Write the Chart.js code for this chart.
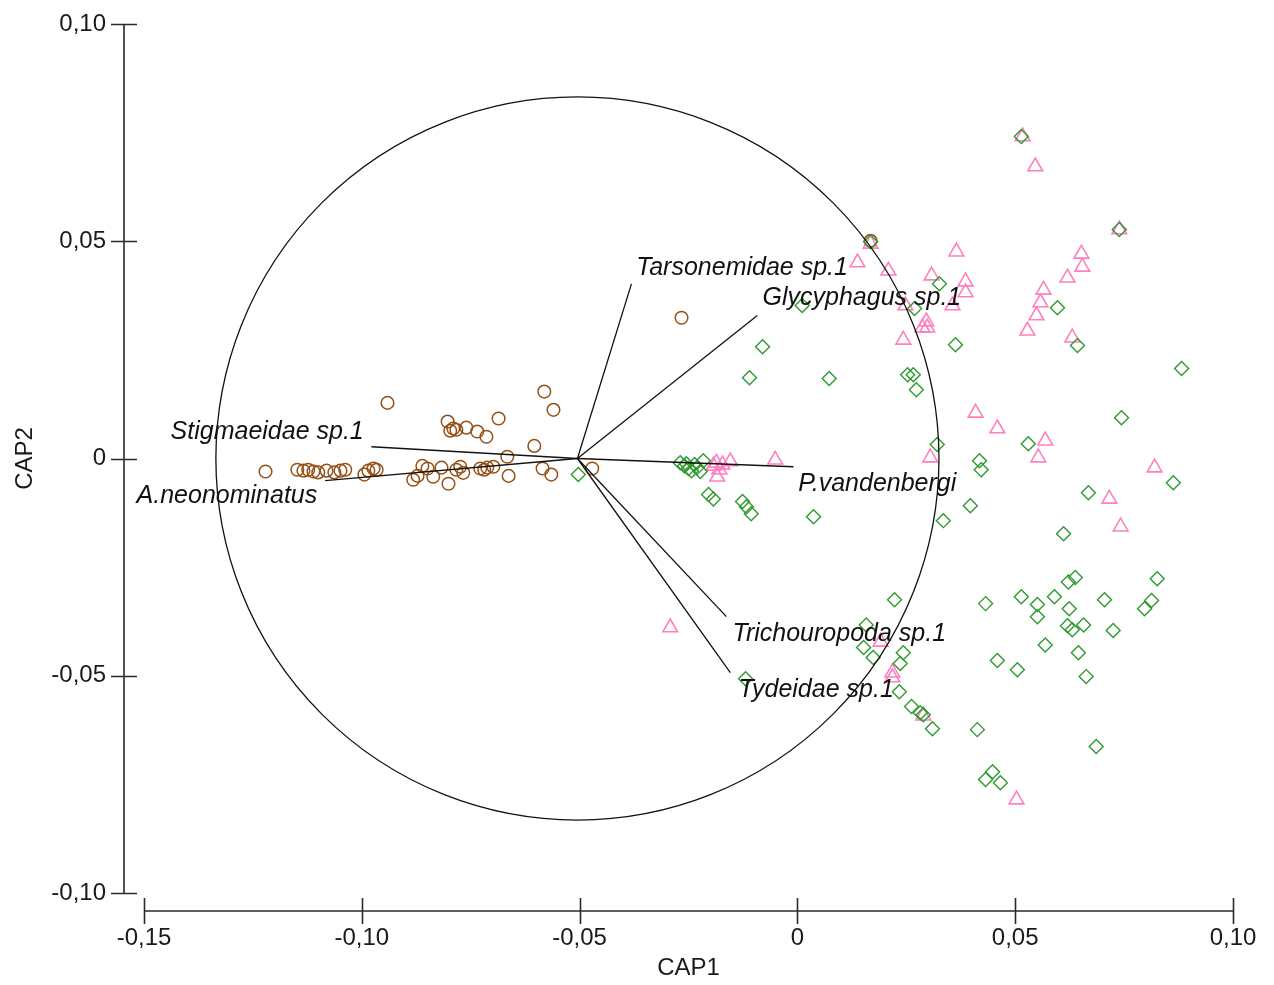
<!DOCTYPE html>
<html>
<head>
<meta charset="utf-8">
<title>CAP</title>
<script src="https://cdn.jsdelivr.net/npm/chart.js@4.4.1/dist/chart.umd.min.js"></script>
<style>
  html, body { margin: 0; padding: 0; background: #fff; }
  canvas { display: block; }
</style>
</head>
<body>
<canvas id="chart" width="1274" height="985"></canvas>
<script>
// axis ticks
const xTicks = [-0.15, -0.10, -0.05, 0, 0.05, 0.10];
const xTickLabels = ['-0,15', '-0,10', '-0,05', '0', '0,05', '0,10'];
const yTicks = [0.10, 0.05, 0, -0.05, -0.10];
const yTickLabels = ['0,10', '0,05', '0', '-0,05', '-0,10'];

// sample scores (CAP1, CAP2)
const circlePts = [
  [-0.1221, -0.0030], [-0.1148, -0.0026], [-0.1134, -0.0028], [-0.1123, -0.0026], [-0.1111, -0.0030],
  [-0.1100, -0.0032], [-0.1081, -0.0028], [-0.1063, -0.0032], [-0.1049, -0.0028], [-0.1038, -0.0026],
  [-0.0994, -0.0037], [-0.0985, -0.0028], [-0.0973, -0.0023], [-0.0966, -0.0026], [-0.0882, -0.0049],
  [-0.0872, -0.0040], [-0.0861, -0.0017], [-0.0849, -0.0023], [-0.0836, -0.0042], [-0.0817, -0.0021],
  [-0.0801, -0.0058], [-0.0783, -0.0026], [-0.0774, -0.0019], [-0.0767, -0.0033], [-0.0728, -0.0023],
  [-0.0719, -0.0026], [-0.0712, -0.0021], [-0.0698, -0.0019], [-0.0663, -0.0040], [-0.0585, -0.0023],
  [-0.0565, -0.0037], [-0.0471, -0.0023], [-0.0941, 0.0128], [-0.0803, 0.0085], [-0.0797, 0.0064],
  [-0.0790, 0.0069], [-0.0783, 0.0066], [-0.0760, 0.0071], [-0.0735, 0.0062], [-0.0714, 0.0050],
  [-0.0686, 0.0092], [-0.0666, 0.0004], [-0.0604, 0.0029], [-0.0581, 0.0154], [-0.0560, 0.0112],
  [-0.0266, 0.0324], [0.0168, 0.0501]
];
const diamondPts = [
  [-0.0503, -0.0037], [-0.0269, -0.0010], [-0.0259, -0.0017], [-0.0250, -0.0023], [-0.0243, -0.0028],
  [-0.0236, -0.0014], [-0.0230, -0.0021], [-0.0223, -0.0030], [-0.0216, -0.0005], [-0.0255, -0.0012],
  [-0.0204, -0.0083], [-0.0193, -0.0093], [-0.0126, -0.0099], [-0.0117, -0.0111], [-0.0106, -0.0127],
  [0.0037, -0.0134], [-0.0080, 0.0257], [-0.0110, 0.0186], [0.0073, 0.0184], [0.0011, 0.0352],
  [0.0168, 0.0499], [0.0326, 0.0402], [0.0269, 0.0345], [0.0597, 0.0347], [0.0363, 0.0262],
  [0.0253, 0.0193], [0.0266, 0.0193], [0.0273, 0.0158], [0.0321, 0.0032], [0.0530, 0.0034],
  [0.0418, -0.0005], [0.0422, -0.0026], [0.0514, 0.0741], [0.0739, 0.0527], [0.0643, 0.0260],
  [0.0882, 0.0207], [0.0744, 0.0094], [0.0863, -0.0056], [0.0668, -0.0079], [0.0611, -0.0173],
  [0.0397, -0.0109], [0.0335, -0.0143], [0.0223, -0.0325], [0.0432, -0.0334], [0.0514, -0.0318],
  [0.0551, -0.0336], [0.0551, -0.0364], [0.0158, -0.0383], [0.0152, -0.0435], [0.0174, -0.0458],
  [0.0243, -0.0447], [0.0236, -0.0472], [0.0234, -0.0537], [0.0262, -0.0571], [0.0282, -0.0585],
  [0.0289, -0.0590], [0.0310, -0.0622], [0.0459, -0.0465], [0.0505, -0.0486], [0.0413, -0.0624],
  [0.0448, -0.0721], [0.0432, -0.0739], [0.0466, -0.0746], [0.0638, -0.0274], [0.0622, -0.0284],
  [0.0826, -0.0277], [0.0590, -0.0318], [0.0705, -0.0325], [0.0813, -0.0327], [0.0797, -0.0346],
  [0.0624, -0.0346], [0.0620, -0.0385], [0.0631, -0.0394], [0.0657, -0.0383], [0.0725, -0.0396],
  [0.0569, -0.0429], [0.0645, -0.0447], [0.0663, -0.0502], [0.0686, -0.0663], [-0.0119, -0.0507]
];
const trianglePts = [
  [-0.0193, -0.0017], [-0.0186, -0.0010], [-0.0179, -0.0026], [-0.0172, -0.0014], [-0.0154, -0.0007],
  [-0.0051, -0.0003], [-0.0184, -0.0042], [0.0168, 0.0494], [0.0138, 0.0451], [0.0209, 0.0432],
  [0.0365, 0.0476], [0.0308, 0.0421], [0.0386, 0.0407], [0.0386, 0.0382], [0.0248, 0.0352],
  [0.0356, 0.0352], [0.0296, 0.0315], [0.0287, 0.0301], [0.0298, 0.0301], [0.0243, 0.0273],
  [0.0565, 0.0388], [0.0558, 0.0359], [0.0549, 0.0329], [0.0528, 0.0294], [0.0409, 0.0105],
  [0.0459, 0.0069], [0.0569, 0.0041], [0.0553, 0.0002], [0.0305, 0.0002], [0.0517, 0.0741],
  [0.0546, 0.0672], [0.0739, 0.0527], [0.0652, 0.0471], [0.0654, 0.0441], [0.0620, 0.0416],
  [0.0631, 0.0278], [0.0820, -0.0021], [0.0716, -0.0093], [0.0742, -0.0157], [0.0191, -0.0422],
  [0.0218, -0.0493], [0.0218, -0.0504], [0.0289, -0.0592], [0.0503, -0.0785], [-0.0292, -0.0389]
];

// species vectors
const vecOrigin = [-0.0505, 0.0];
const vecNames = ['Tarsonemidae sp.1', 'Glycyphagus sp.1', 'Stigmaeidae sp.1', 'A.neonominatus',
  'P.vandenbergi', 'Trichouropoda sp.1', 'Tydeidae sp.1'];
const vecEnds = [[-0.0381, 0.0402], [-0.0092, 0.0329], [-0.0978, 0.0027], [-0.1084, -0.0051],
  [-0.0009, -0.0019], [-0.0163, -0.0364], [-0.0154, -0.0493]];
const vecLabelAt = [[-0.0370, 0.0439], [-0.0080, 0.0370], [-0.1439, 0.0062], [-0.1517, -0.0086],
  [0.0002, -0.0058], [-0.0149, -0.0403], [-0.0135, -0.0532]];
const corrRadius = 0.083;

const FONT = '"Liberation Sans", Arial, sans-serif';
const toXY = p => ({ x: p[0], y: p[1] });

const vectorSets = vecEnds.map((e, i) => ({
  type: 'line',
  label: vecNames[i],
  data: [toXY(vecOrigin), toXY(e)],
  borderColor: '#111',
  borderWidth: 1.3,
  pointRadius: 0,
  fill: false
}));

const decor = {
  id: 'decor',
  afterDatasetsDraw(chart) {
    const ctx = chart.ctx;
    const xs = chart.scales.x, ys = chart.scales.y;
    ctx.save();
    // correlation circle
    const cx = xs.getPixelForValue(vecOrigin[0]);
    const cy = ys.getPixelForValue(vecOrigin[1]);
    const r = xs.getPixelForValue(vecOrigin[0] + corrRadius) - cx;
    ctx.strokeStyle = '#111';
    ctx.lineWidth = 1.3;
    ctx.beginPath();
    ctx.arc(cx, cy, r, 0, Math.PI * 2);
    ctx.stroke();

    // vector labels
    ctx.fillStyle = '#111';
    ctx.font = 'italic 25px ' + FONT;
    ctx.textAlign = 'left';
    ctx.textBaseline = 'middle';
    vecNames.forEach((n, i) => {
      ctx.fillText(n, xs.getPixelForValue(vecLabelAt[i][0]), ys.getPixelForValue(vecLabelAt[i][1]));
    });

    // offset axes
    const axX = xs.left - 20;
    const axY = ys.bottom + 18;
    ctx.strokeStyle = '#2a2a2a';
    ctx.lineWidth = 1.6;
    ctx.beginPath();
    ctx.moveTo(axX, ys.getPixelForValue(yTicks[0]));
    ctx.lineTo(axX, ys.getPixelForValue(yTicks[yTicks.length - 1]));
    yTicks.forEach(v => {
      const py = Math.round(ys.getPixelForValue(v)) + 0.5;
      ctx.moveTo(axX - 13, py);
      ctx.lineTo(axX + 13, py);
    });
    ctx.moveTo(xs.getPixelForValue(xTicks[0]), axY);
    ctx.lineTo(xs.getPixelForValue(xTicks[xTicks.length - 1]), axY);
    xTicks.forEach(v => {
      const px = Math.round(xs.getPixelForValue(v)) + 0.5;
      ctx.moveTo(px, axY - 13);
      ctx.lineTo(px, axY + 13);
    });
    ctx.stroke();

    ctx.fillStyle = '#1a1a1a';
    ctx.font = '24px ' + FONT;
    ctx.textAlign = 'right';
    ctx.textBaseline = 'middle';
    yTicks.forEach((v, i) => ctx.fillText(yTickLabels[i], axX - 18, ys.getPixelForValue(v)));
    ctx.textAlign = 'center';
    xTicks.forEach((v, i) => ctx.fillText(xTickLabels[i], xs.getPixelForValue(v), axY + 27));

    // axis titles
    ctx.fillText('CAP1', (xs.left + xs.right) / 2, 968);
    ctx.translate(25, (ys.top + ys.bottom) / 2);
    ctx.rotate(-Math.PI / 2);
    ctx.fillText('CAP2', 0, 0);
    ctx.restore();
  }
};

new Chart(document.getElementById('chart'), {
  type: 'scatter',
  data: {
    datasets: [
      ...vectorSets,
      {
        label: 'diamonds',
        data: diamondPts.map(toXY),
        pointStyle: 'rectRot',
        pointRadius: 7,
        borderColor: '#2f9a2f',
        backgroundColor: 'rgba(0,0,0,0)',
        borderWidth: 1.4
      },
      {
        label: 'circles',
        data: circlePts.map(toXY),
        pointStyle: 'circle',
        pointRadius: 6.3,
        borderColor: '#955015',
        backgroundColor: 'rgba(0,0,0,0)',
        borderWidth: 1.5
      },
      {
        label: 'triangles',
        data: trianglePts.map(toXY),
        pointStyle: 'triangle',
        pointRadius: 8.5,
        borderColor: '#ff7fbf',
        backgroundColor: 'rgba(0,0,0,0)',
        borderWidth: 1.6
      }
    ]
  },
  options: {
    responsive: false,
    devicePixelRatio: 1,
    animation: false,
    layout: { padding: { left: 144, right: 41, top: 24, bottom: 92 } },
    plugins: { legend: { display: false }, tooltip: { enabled: false } },
    scales: {
      x: { type: 'linear', min: -0.15, max: 0.10, display: false },
      y: { type: 'linear', min: -0.10, max: 0.10, display: false }
    }
  },
  plugins: [decor]
});
</script>
</body>
</html>
